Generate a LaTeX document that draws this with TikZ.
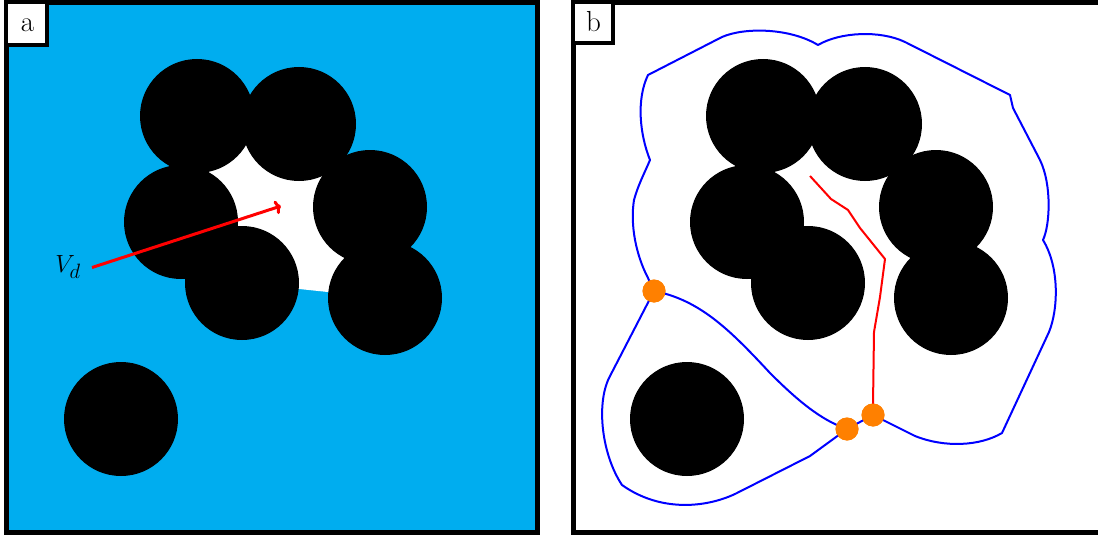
\documentclass[tikz,border=0pt]{standalone}
\usetikzlibrary{arrows.meta}
\definecolor{poreblue}{RGB}{0,173,239}
\definecolor{dotorange}{RGB}{255,128,0}
\begin{document}
\begin{tikzpicture}[x=1pt,y=-1pt,
  frame/.style={line width=5pt},
  labelbox/.style={fill=white,draw=black,line width=4pt},
  labeltext/.style={font=\fontsize{29}{32}\selectfont,anchor=base,inner sep=0pt},
  grain/.style={fill=black},
  boundary/.style={draw=blue,line width=2pt,line join=round},
  redpath/.style={draw=red,line width=2pt,line join=round},
  contact/.style={circle,fill=dotorange,minimum size=23pt,inner sep=0pt}]
\useasboundingbox (0,0) rectangle (1098,535);
% ---------------- panel a ----------------
\fill[poreblue] (6,2.5) rectangle (537,532.5);
\fill[white] (197,116) -- (299,124) -- (370,207) -- (385,298) -- (242,283) -- (181,222) -- cycle;
\foreach \cx/\cy in {197/116,299/124,181/222,370/207,242/283,385/298,121/419}
  \fill[grain] (\cx,\cy) circle[radius=57pt];
\node[font=\fontsize{30}{34}\selectfont,inner sep=0pt] (vd) at (68,267) {$V_d$};
\coordinate (vdend) at (281,206);
\draw[red,line width=3pt,-{To[length=6pt,width=14pt]}] (92,267.5) -- (vdend);
\draw[frame] (6,2.5) rectangle (537,532.5);
\draw[labelbox] (6,2.5) rectangle (47,45);
\node[labeltext] (la) at (27.5,32) {a};
% ---------------- panel b ----------------
\foreach \cx/\cy in {197/116,299/124,181/222,370/207,242/283,385/298,121/419}
  \fill[grain] (\cx+566,\cy) circle[radius=57pt];
\node[contact] (A) at (654,291) {};
\node[contact] (B1) at (847,429) {};
\node[contact] (B2) at (873,415) {};
% red path
\draw[redpath] (810,176) -- (831,199) -- (848,210) -- (860,228) -- (885,259)
  -- (880,297) -- (874,332) -- (873,405) -- (B2.center);
% outer boundary (upper part from A round to B2)
\draw[boundary] (A.center) -- (648,278) .. controls (636,255) and (630,225) .. (634,200)
  .. controls (638,185) and (645,172) .. (650,160)
  .. controls (640,135) and (636,100) .. (648,75)
  -- (722,37) .. controls (745,27) and (790,28) .. (818,45)
  .. controls (840,32) and (880,30) .. (905,42)
  -- (1010,95) -- (1013,108) -- (1040,160)
  .. controls (1052,185) and (1050,225) .. (1043,240)
  .. controls (1060,268) and (1058,310) .. (1049,332)
  -- (1002,433) .. controls (980,446) and (945,448) .. (915,436)
  -- (B2.center);
\draw[boundary] (B2.center) -- (B1.center);
% outer boundary (lower-left part from B1 round to A)
\draw[boundary] (B1.center) -- (810,456) -- (735,494)
  .. controls (705,508) and (660,512) .. (622,485)
  .. controls (602,455) and (596,405) .. (609,378)
  -- (A.center);
% inner boundary A to B1
\draw[boundary] (A.center) .. controls (700,300) and (730,330) .. (770,373)
  .. controls (795,398) and (820,420) .. (B1.center);
\node[contact] at (A) {};
\node[contact] at (B1) {};
\node[contact] at (B2) {};
\draw[frame] (573,2.5) rectangle (1104,532.5);
\draw[labelbox] (573,2.5) rectangle (613,43);
\node[labeltext] (lb) at (593.5,32) {b};
\end{tikzpicture}
\end{document}
